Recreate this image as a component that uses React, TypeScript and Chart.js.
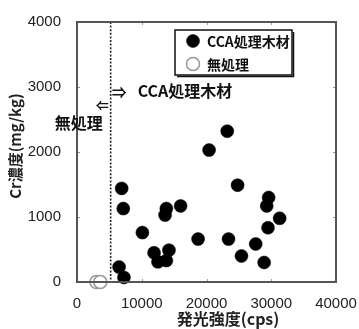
import React, { useEffect, useRef } from "react";
import { Chart, registerables } from "chart.js";

Chart.register(...registerables);

// ---- data ----
const ccaX = [6900, 7150, 10100, 13800, 13600, 16000, 11900, 14200, 12500, 13800, 6500, 7250, 23200, 20400, 24800, 29600, 29300, 31300, 29500, 18700, 23400, 27600, 25400, 28900];
const ccaY = [1440, 1130, 760, 1130, 1030, 1170, 450, 490, 310, 330, 230, 70, 2320, 2030, 1490, 1300, 1170, 980, 835, 660, 660, 585, 400, 300];
const untreatedX = [3000, 3600];
const untreatedY = [0, 0];
const xTicks = [0, 10000, 20000, 30000, 40000];
const yTicks = [0, 1000, 2000, 3000, 4000];
const boundaryX = 5200;
const seriesNames = ["CCA処理木材", "無処理"];
const xTitle = "発光強度(cps)";
const yTitle = "Cr濃度(mg/kg)";
const rightNote = "CCA処理木材";
const leftNote = "無処理";

const JP = '"Noto Sans CJK JP", "Noto Sans", sans-serif';
const LAT = '"Liberation Sans", Arial, sans-serif';

const overlay = {
  id: "overlay",
  beforeDatasetsDraw(chart: any) {
    const { ctx, chartArea: a, scales } = chart;
    const x = scales.x.getPixelForValue(boundaryX);
    ctx.save();
    ctx.strokeStyle = "#222";
    ctx.lineWidth = 1.6;
    ctx.setLineDash([2, 1.6]);
    ctx.beginPath();
    ctx.moveTo(x, a.top);
    ctx.lineTo(x, a.bottom);
    ctx.stroke();
    ctx.restore();
  },
  afterDraw(chart: any) {
    const { ctx, chartArea: a, scales } = chart;
    ctx.save();
    // inner ticks
    ctx.strokeStyle = "#999";
    ctx.lineWidth = 1;
    for (const v of xTicks.slice(1, -1)) {
      const px = Math.round(scales.x.getPixelForValue(v)) + 0.5;
      ctx.beginPath();
      ctx.moveTo(px, a.bottom);
      ctx.lineTo(px, a.bottom - 3);
      ctx.moveTo(px, a.top);
      ctx.lineTo(px, a.top + 3);
      ctx.stroke();
    }
    for (const v of yTicks.slice(1, -1)) {
      const py = Math.round(scales.y.getPixelForValue(v)) + 0.5;
      ctx.beginPath();
      ctx.moveTo(a.left, py);
      ctx.lineTo(a.left + 3, py);
      ctx.moveTo(a.right, py);
      ctx.lineTo(a.right - 3, py);
      ctx.stroke();
    }
    // frame
    ctx.strokeStyle = "#555";
    ctx.lineWidth = 2;
    ctx.strokeRect(a.left, a.top, a.right - a.left, a.bottom - a.top);

    // annotations
    const bx = scales.x.getPixelForValue(boundaryX);
    ctx.fillStyle = "#111";
    ctx.textBaseline = "middle";
    ctx.textAlign = "left";
    ctx.font = "bold 15px " + JP;
    ctx.fillText("⇒", bx + 1, 92);
    ctx.font = "bold 16px " + JP;
    ctx.fillText(rightNote, bx + 27, 91);
    ctx.textAlign = "right";
    ctx.font = "bold 13px " + JP;
    ctx.fillText("⇐", bx - 2, 105);
    ctx.font = "bold 16px " + JP;
    ctx.fillText(leftNote, bx - 8, 123);

    // legend
    const lx = 175, ly = 30, lw = 117, lh = 45;
    ctx.fillStyle = "#fff";
    ctx.fillRect(lx, ly, lw, lh);
    ctx.strokeStyle = "#111";
    ctx.lineWidth = 1.5;
    ctx.strokeRect(lx, ly, lw, lh);
    ctx.lineWidth = 1.5;
    ctx.beginPath();
    ctx.moveTo(lx + lw + 1.5, ly + 2);
    ctx.lineTo(lx + lw + 1.5, ly + lh + 1.5);
    ctx.lineTo(lx + 2, ly + lh + 1.5);
    ctx.stroke();
    const ds = chart.data.datasets;
    const rows = [41, 64];
    ds.forEach((d: any, i: number) => {
      ctx.beginPath();
      ctx.arc(lx + 18, rows[i], 6.5, 0, Math.PI * 2);
      ctx.fillStyle = d.backgroundColor;
      ctx.fill();
      ctx.strokeStyle = d.borderColor;
      ctx.lineWidth = d.borderWidth;
      ctx.stroke();
      ctx.fillStyle = "#111";
      ctx.textAlign = "left";
      ctx.font = "bold 14px " + JP;
      ctx.fillText(d.label, lx + 32, rows[i] + 1);
    });

    // axis titles
    ctx.fillStyle = "#222";
    ctx.textAlign = "center";
    ctx.font = "bold 16px " + JP;
    ctx.fillText(xTitle, 228, 319);
    ctx.translate(15, 146);
    ctx.rotate(-Math.PI / 2);
    ctx.font = "bold 15px " + JP;
    ctx.fillText(yTitle, 0, 0);
    ctx.restore();
  },
};

export default function App() {
  const ref = useRef<HTMLCanvasElement | null>(null);
  useEffect(() => {
    if (!ref.current) return;
    const chart = new Chart(ref.current, {
      type: "scatter",
      data: {
        datasets: [
          {
            label: seriesNames[0],
            data: ccaX.map((x, i) => ({ x, y: ccaY[i] })),
            backgroundColor: "#000",
            borderColor: "#000",
            borderWidth: 0.5,
            pointRadius: 6.5,
            clip: false as any,
          },
          {
            label: seriesNames[1],
            data: untreatedX.map((x, i) => ({ x, y: untreatedY[i] })),
            backgroundColor: "#fff",
            borderColor: "#999",
            borderWidth: 1.5,
            pointRadius: 6.5,
            clip: false as any,
          },
        ],
      },
      plugins: [overlay],
      options: {
        animation: false,
        responsive: false,
        devicePixelRatio: 1,
        layout: { padding: { top: 22, right: 44, left: 0, bottom: 0 } },
        plugins: { legend: { display: false }, tooltip: { enabled: false } },
        scales: {
          x: {
            type: "linear",
            min: xTicks[0],
            max: xTicks[xTicks.length - 1],
            afterBuildTicks: (s: any) => {
              s.ticks = xTicks.map((v) => ({ value: v }));
            },
            afterFit: (s: any) => {
              s.height = 47;
            },
            grid: { display: false },
            border: { display: false },
            ticks: {
              padding: 5,
              color: "#222",
              font: { family: LAT, size: 15 },
              maxRotation: 0,
              autoSkip: false,
              callback: (v: any) => String(v),
            },
          },
          y: {
            type: "linear",
            min: yTicks[0],
            max: yTicks[yTicks.length - 1],
            afterBuildTicks: (s: any) => {
              s.ticks = yTicks.map((v) => ({ value: v }));
            },
            afterFit: (s: any) => {
              s.width = 77;
            },
            grid: { display: false },
            border: { display: false },
            ticks: {
              padding: 8,
              color: "#222",
              font: { family: LAT, size: 15 },
              callback: (v: any) => String(v),
            },
          },
        },
      },
    } as any);
    return () => chart.destroy();
  }, []);
  return (
    <div style={{ position: "absolute", left: 0, top: 0, width: 359, height: 329, overflow: "hidden", background: "#fff" }}>
      <canvas ref={ref} width={380} height={329} style={{ display: "block" }} />
    </div>
  );
}
